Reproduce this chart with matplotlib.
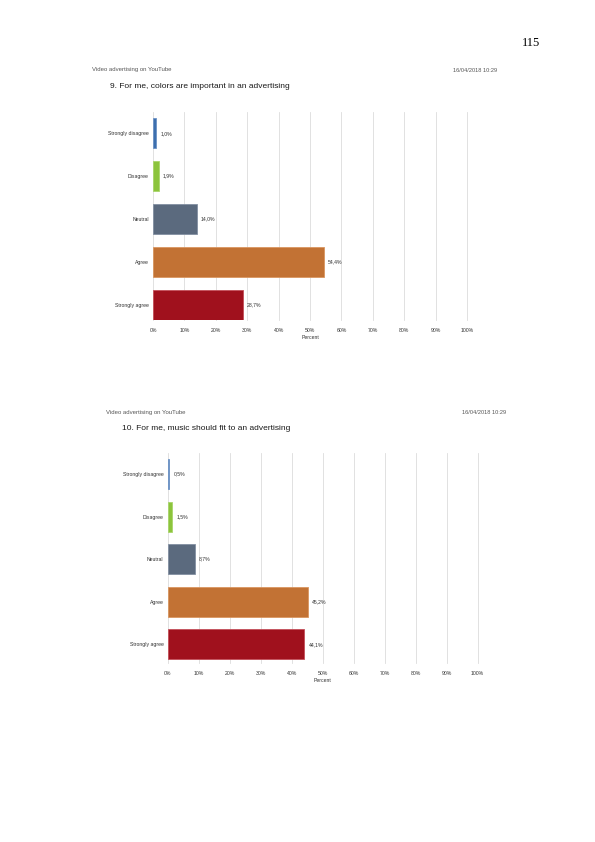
import matplotlib
matplotlib.use("Agg")
import matplotlib.pyplot as plt

plt.rcParams['font.family'] = ['Liberation Sans', 'DejaVu Sans']

categories = ["Strongly disagree", "Disagree", "Neutral", "Agree", "Strongly agree"]
colors_q9 = [1.0, 1.9, 14.0, 54.4, 28.7]
music_q10 = [0.5, 1.5, 8.7, 45.2, 44.1]
tick_vals = [0, 10, 20, 30, 40, 50, 60, 70, 80, 90, 100]
tick_labels = ["%d%%" % t for t in tick_vals]

bar_colors = ["#3d6fae", "#8cc43c", "#5b6a7e", "#c27234", "#a0111d"]
edge_colors = ["#6d93c6", "#a9d66a", "#8390a2", "#d99660", "#c4505a"]

W, H = 595, 842
fig = plt.figure(figsize=(W / 100, H / 100), dpi=100)


def px_axes(left, top, right, bottom):
    return fig.add_axes([left / W, 1 - bottom / H, (right - left) / W, (bottom - top) / H])


def draw_chart(ax, values, ybottom):
    ypos = list(range(len(categories)))
    ax.barh(ypos, values, height=0.7, color=bar_colors, edgecolor=edge_colors, linewidth=0.6, zorder=3)
    for y, v in zip(ypos, values):
        ax.text(v + 1.3, y, ("%.1f%%" % v).replace(".", ","), va="center", ha="left",
                fontsize=3.7, color="#333333")
    ax.set_xlim(0, 100)
    ax.set_ylim(ybottom, -0.5)
    ax.set_xticks(tick_vals)
    ax.set_xticklabels(tick_labels)
    ax.set_yticks(ypos)
    ax.set_yticklabels(categories)
    ax.tick_params(axis="both", length=0, labelsize=3.7, colors="#333333", pad=3)
    ax.tick_params(axis="x", pad=6)
    ax.grid(axis="x", color="#dcdcdc", linewidth=0.6, zorder=0)
    for gl in ax.get_xgridlines():
        gl.set_clip_on(False)
    for s in ax.spines.values():
        s.set_visible(False)
    ax.set_xlabel("Percent", fontsize=3.7, color="#333333", labelpad=1.5)


# page number
fig.text(540 / W, 1 - 43 / H, "115", family="Liberation Serif", fontsize=9, ha="right", va="center")

# first chart
fig.text(92 / W, 1 - 70 / H, "Video advertising on YouTube", fontsize=4.3, color="#555555", va="center")
fig.text(497 / W, 1 - 70 / H, "16/04/2018 10:29", fontsize=4.1, color="#555555", va="center", ha="right")
fig.text(110 / W, 1 - 87 / H, "9. For me, colors are important in an advertising", fontsize=6.0,
         color="#1a1a1a", va="center")
ax1 = px_axes(153, 112, 467, 320)
draw_chart(ax1, colors_q9, 4.36)

# second chart
fig.text(106 / W, 1 - 412 / H, "Video advertising on YouTube", fontsize=4.3, color="#555555", va="center")
fig.text(506 / W, 1 - 412 / H, "16/04/2018 10:29", fontsize=4.1, color="#555555", va="center", ha="right")
fig.text(122 / W, 1 - 428 / H, "10. For me, music should fit to an advertising", fontsize=6.0,
         color="#1a1a1a", va="center")
ax2 = px_axes(167.7, 453, 477.7, 663)
draw_chart(ax2, music_q10, 4.44)

fig.savefig("out.png", dpi=100)
